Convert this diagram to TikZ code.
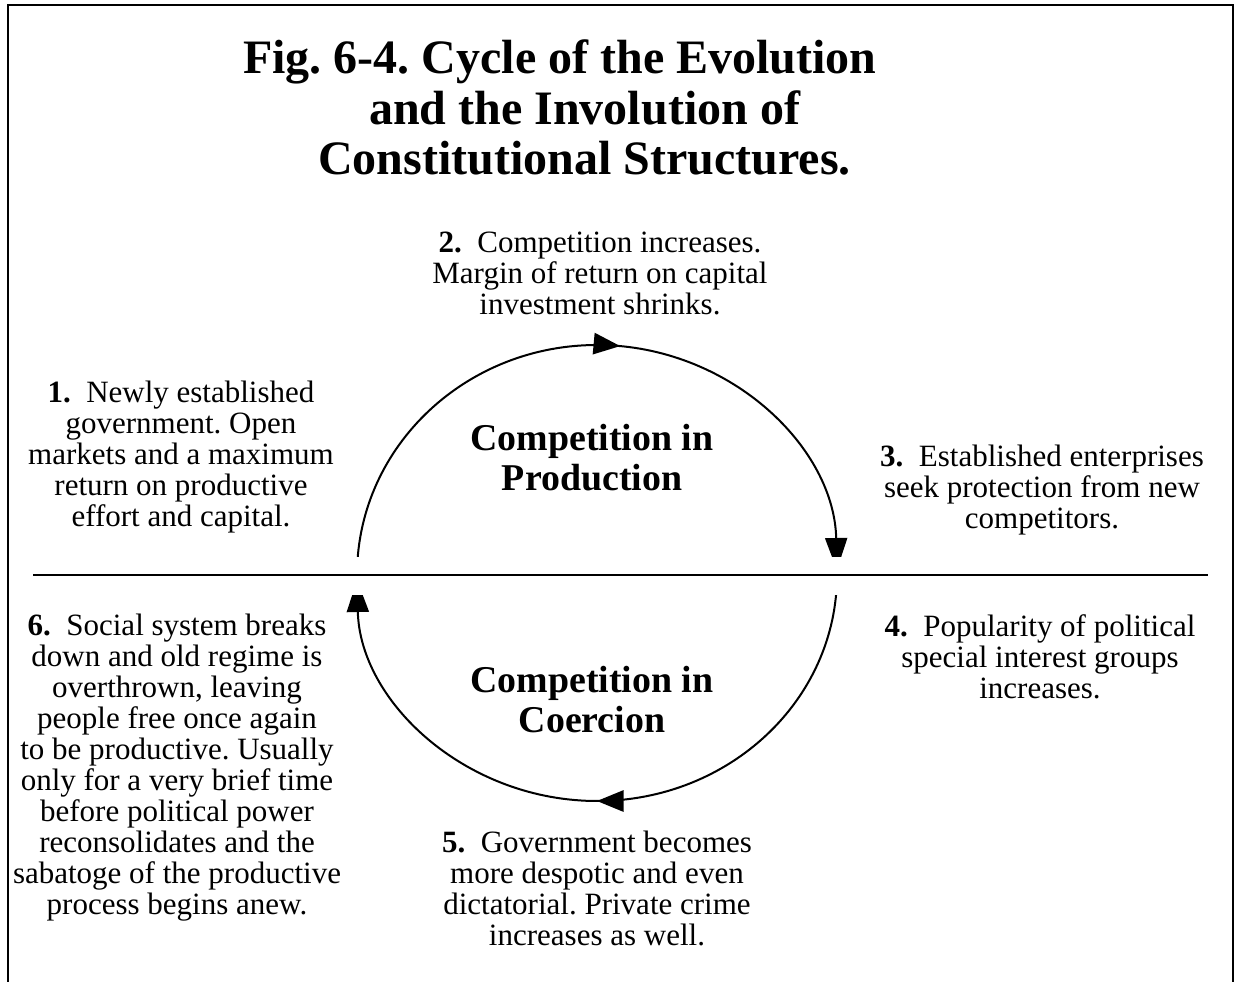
\documentclass[tikz,border=0pt]{standalone}
\usepackage{fontspec}
\setmainfont{Liberation Serif}
\frenchspacing
\usetikzlibrary{arrows.meta,decorations.markings}
\tikzset{
  body/.style={align=center, inner sep=0pt, font=\fontsize{23.25}{23.25}\selectfont},
  cyclabel/.style={align=center, inner sep=0pt, font=\fontsize{28.4}{30}\selectfont\bfseries},
  titleline/.style={anchor=base west, inner sep=0pt, font=\fontsize{36}{38}\selectfont\bfseries},
  cyc/.style={line width=1.5pt},
  headtip/.tip={Triangle[length=20pt,width=16pt]},
  endtip/.tip={Triangle[length=24pt,width=16.5pt]},
}
\begin{document}
\frenchspacing
\begin{tikzpicture}[x=0.75pt,y=-0.75pt]
\useasboundingbox (0,0) rectangle (1236,982);
% frame
\draw[line width=2pt] (8,982) -- (8,5) -- (1233,5) -- (1233,982);
% title
\node[titleline] (t1) at (243,73) {Fig. 6-4. Cycle of the Evolution};
\node[titleline] (t2) at (369,124) {and the Involution of};
\node[titleline] (t3) at (318,174) {Constitutional Structures.};
% cycle
\coordinate (c) at (597,575);
\draw[cyc,-endtip,
  postaction={decorate},
  decoration={markings, mark=at position 0.53 with {\arrow{headtip}}}]
  (c) ++(182:240 and 230) arc[start angle=182, end angle=358.75, x radius=240, y radius=230];
\draw[cyc,-endtip,
  postaction={decorate},
  decoration={markings, mark=at position 0.5 with {\arrow{headtip}}}]
  (c) ++(1.3:240 and 226) arc[start angle=1.3, end angle=178.73, x radius=240, y radius=226];
% white gap round the divider
\fill[white] (330,557) rectangle (870,594.5);
% divider
\coordinate (hl) at (33,575);
\coordinate (hr) at (1208,575);
\draw[line width=1.8pt] (hl) -- (hr);
% labels
\node[cyclabel] (prod) at (592,458) {Competition in\\Production};
\node[cyclabel] (coer) at (592,700) {Competition in\\Coercion};
% texts
\node[body] (n1) at (181,457) {\textbf{1.}\ \ Newly established\\government. Open\\markets and a maximum\\return on productive\\effort and capital.};
\node[body] (n2) at (600,273) {\textbf{2.}\ \ Competition increases.\\Margin of return on capital\\investment shrinks.};
\node[body] (n3) at (1042,490) {\textbf{3.}\ \ Established enterprises\\seek protection from new\\competitors.};
\node[body] (n4) at (1040,657) {\textbf{4.}\ \ Popularity of political\\special interest groups\\increases.};
\node[body] (n5) at (597,888) {\textbf{5.}\ \ Government becomes\\more despotic and even\\dictatorial. Private crime\\increases as well.};
\node[body] (n6) at (177,768) {\textbf{6.}\ \ Social system breaks\\down and old regime is\\overthrown, leaving\\people free once again\\to be productive. Usually\\only for a very brief time\\before political power\\reconsolidates and the\\sabatoge of the productive\\process begins anew.};
\end{tikzpicture}
\end{document}
